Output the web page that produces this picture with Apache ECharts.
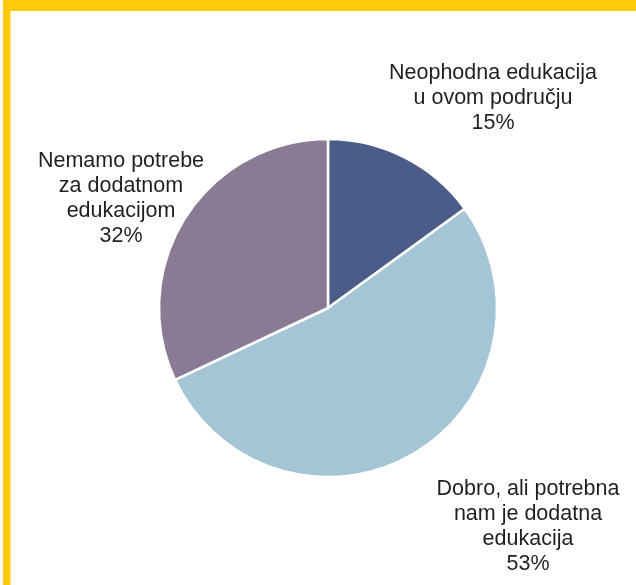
<!DOCTYPE html>
<html>
<head>
<meta charset="utf-8">
<style>
  html, body { margin: 0; padding: 0; background: #ffffff; }
  #chart { width: 636px; height: 585px; }
</style>
<script src="https://cdn.jsdelivr.net/npm/echarts@6/dist/echarts.min.js"></script>
</head>
<body>
<div id="chart"></div>
<script>
// Survey answers about need for further education
const categories = [
  'Neophodna edukacija\nu ovom području',
  'Dobro, ali potrebna\nnam je dodatna\nedukacija',
  'Nemamo potrebe\nza dodatnom\nedukacijom'
];
const shares = [15, 53, 32];
const sliceColors = ['#4a5c87', '#a3c5d6', '#897b94'];

// Where each label block is centred (pixels in the chart canvas)
const labelCentres = [
  [493, 98],
  [528, 527],
  [121, 199]
];

const chart = echarts.init(document.getElementById('chart'), null, { renderer: 'canvas' });

chart.setOption({
  animation: false,
  backgroundColor: '#ffffff',
  graphic: [
    // yellow frame: top band and left band
    { type: 'rect', shape: { x: 3, y: 0, width: 633, height: 11 }, style: { fill: '#ffca0a' }, silent: true },
    { type: 'rect', shape: { x: 3, y: 0, width: 7.5, height: 585 }, style: { fill: '#ffca0a' }, silent: true }
  ],
  series: [{
    type: 'pie',
    center: [328, 308],
    radius: 169,
    startAngle: 90,
    clockwise: true,
    avoidLabelOverlap: false,
    itemStyle: { borderColor: '#ffffff', borderWidth: 2.5 },
    label: {
      show: true,
      position: 'outside',
      formatter: p => p.name + '\n' + p.value + '%',
      fontFamily: '"Liberation Sans", Arial, Helvetica, sans-serif',
      fontSize: 21.5,
      lineHeight: 25,
      color: '#231f20',
      align: 'center'
    },
    labelLine: { show: false },
    labelLayout: p => ({
      x: labelCentres[p.dataIndex][0],
      y: labelCentres[p.dataIndex][1],
      align: 'center',
      verticalAlign: 'middle'
    }),
    data: categories.map((name, i) => ({
      name,
      value: shares[i],
      itemStyle: { color: sliceColors[i] }
    }))
  }]
});
</script>
</body>
</html>
